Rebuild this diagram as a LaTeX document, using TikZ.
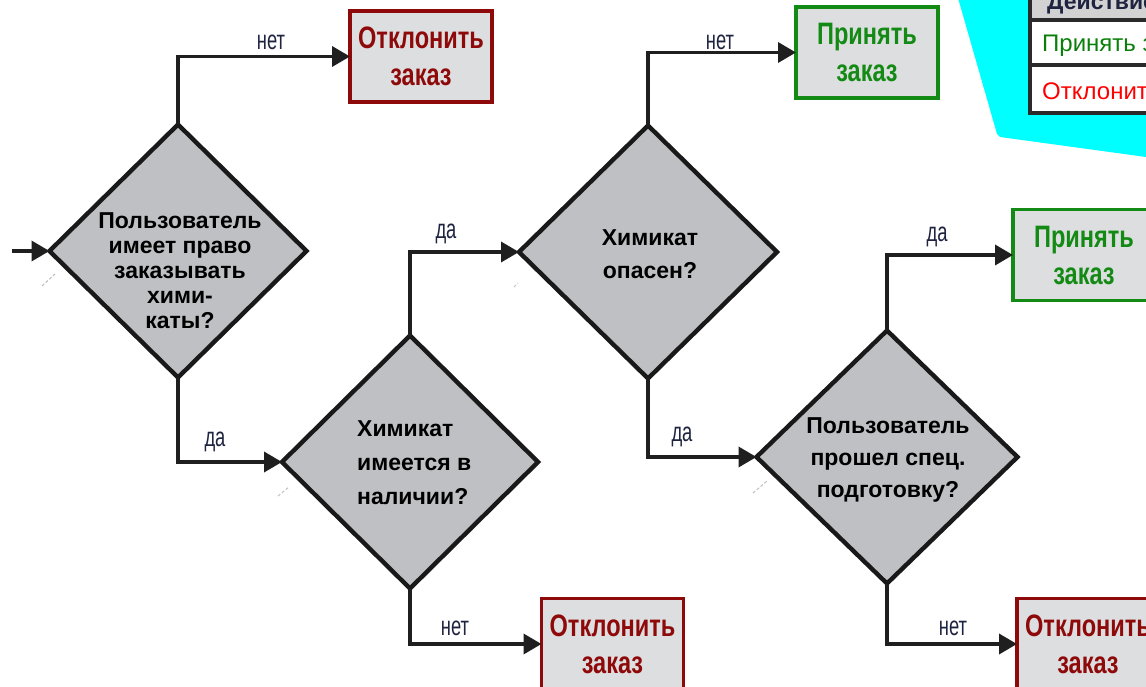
\documentclass[tikz,border=0pt]{standalone}
\usepackage{fontspec}
\setmainfont{Liberation Sans}
\newfontfamily\qfont{Liberation Sans}
\newfontfamily\actfont[FakeStretch=0.76]{Liberation Sans}
\newfontfamily\lblfont[FakeStretch=0.68]{Liberation Sans}
\usetikzlibrary{shapes.geometric,arrows.meta}

\definecolor{diafill}{HTML}{BFC0C4}
\definecolor{boxfill}{HTML}{DDDEE0}
\definecolor{rejred}{HTML}{8E0A0A}
\definecolor{accgreen}{HTML}{138A13}
\definecolor{lblink}{HTML}{1E2440}
\definecolor{panelcyan}{HTML}{00FFFF}
\definecolor{hdrgray}{HTML}{D2D2D2}
\definecolor{tablegray}{HTML}{2A2A2A}
\definecolor{rowgreen}{HTML}{0A800A}
\definecolor{rowred}{HTML}{FF0000}

\tikzset{
  decision/.style={diamond, draw=black!90, line width=4.4pt, fill=diafill,
    inner sep=0pt, outer sep=0pt},
  question/.style={inner sep=0pt, anchor=north,
    font=\qfont\bfseries\fontsize{23}{25}\selectfont, align=center},
  outcome/.style={rectangle, draw, line width=3.2pt, fill=boxfill,
    minimum width=142pt, minimum height=91pt, inner sep=0pt, outer sep=0pt,
    align=center, font=\actfont\bfseries\fontsize{31}{37}\selectfont},
  reject/.style={outcome, draw=rejred, text=rejred},
  accept/.style={outcome, draw=accgreen, text=accgreen},
  flow/.style={line width=3.6pt, draw=black!88, -{Triangle[length=18pt,width=20pt]}},
  branch/.style={font=\lblfont\fontsize{27}{27}\selectfont, text=lblink,
    inner sep=0pt, anchor=base},
  rowtext/.style={font=\fontsize{24}{24}\selectfont, inner sep=0pt, anchor=base west},
  smudge/.style={draw=black!25, line width=1pt, dash pattern=on 3pt off 2pt}
}

\begin{document}
\begin{tikzpicture}[x=1pt,y=-1pt]
  \clip (0,0) rectangle (1146,687);
  \fill[white] (0,0) rectangle (1146,687);

  % legend panel in the upper right corner
  \fill[panelcyan] (958,-2) -- (997,134) -- (1000,137) -- (1146,157) -- (1146,-2) -- cycle;
  \fill[hdrgray] (1030,-5) rectangle (1150,20);
  \fill[white] (1030,20) rectangle (1150,113);
  \draw[tablegray, line width=3.5pt] (1030,-5) -- (1030,113) -- (1150,113);
  \draw[tablegray, line width=3.5pt] (1030,20) -- (1150,20);
  \draw[tablegray, line width=3.5pt] (1030,65) -- (1150,65);
  \node[rowtext, font=\bfseries\fontsize{23}{23}\selectfont, text=lblink] (hdr) at (1047,10) {Действие};
  \node[rowtext, text=rowgreen] (rowacc) at (1042,52) {Принять заказ};
  \node[rowtext, text=rowred] (rowrej) at (1042,100) {Отклонить заказ};

  % decisions
  \node[decision, minimum width=257pt, minimum height=253pt] (d1) at (178,251) {};
  \node[decision, minimum width=256pt, minimum height=253pt] (d2) at (410,462) {};
  \node[decision, minimum width=258pt, minimum height=253pt] (d3) at (648,252) {};
  \node[decision, minimum width=261pt, minimum height=253pt] (d4) at (887,457) {};

  \node[question] (q1) at (180,212) {Пользователь\\имеет право\\заказывать\\хими-\\каты?};
  \node[question, align=left, anchor=north west, font=\qfont\bfseries\fontsize{23}{34}\selectfont] (q2) at (357,420) {Химикат\\имеется в\\наличии?};
  \node[question, font=\qfont\bfseries\fontsize{23}{33}\selectfont] (q3) at (650,229) {Химикат\\опасен?};
  \node[question, font=\qfont\bfseries\fontsize{23}{32}\selectfont] (q4) at (888,417) {Пользователь\\прошел спец.\\подготовку?};

  % outcomes
  \node[reject] (r1) at (421,56.5) {Отклонить\\заказ};
  \node[accept] (a1) at (867,52.5) {Принять\\заказ};
  \node[accept] (a2) at (1084,255) {Принять\\заказ};
  \node[reject] (r2) at (612.5,644) {Отклонить\\заказ};
  \node[reject] (r3) at (1088,644) {Отклонить\\заказ};

  % connectors
  \coordinate (start) at (12,251);
  \draw[flow] (start) -- (d1.west);
  \draw[flow] (d1.north) |- (r1.west);
  \draw[flow] (d1.south) |- (d2.west);
  \draw[flow] (d2.north) |- (d3.west);
  \draw[flow] (d2.south) |- (r2.west);
  \draw[flow] (d3.north) |- (a1.west);
  \draw[flow] (d3.south) |- (d4.west);
  \draw[flow] (d4.north) |- (a2.west);
  \draw[flow] (d4.south) |- (r3.west);

  % branch labels
  \node[branch] (l1) at (271,50) {нет};
  \node[branch] (l2) at (215,446) {да};
  \node[branch] (l3) at (446,239) {да};
  \node[branch] (l4) at (455,635) {нет};
  \node[branch] (l5) at (720,50) {нет};
  \node[branch] (l6) at (682,441) {да};
  \node[branch] (l7) at (937,241) {да};
  \node[branch] (l8) at (953,635) {нет};

  % faint marks beside the decisions
  \draw[smudge] (42,286) -- (55,274);
  \draw[smudge] (278,496) -- (289,487);
  \draw[smudge] (514,287) -- (518,283);
  \draw[smudge] (753,493) -- (767,481);
\end{tikzpicture}
\end{document}
